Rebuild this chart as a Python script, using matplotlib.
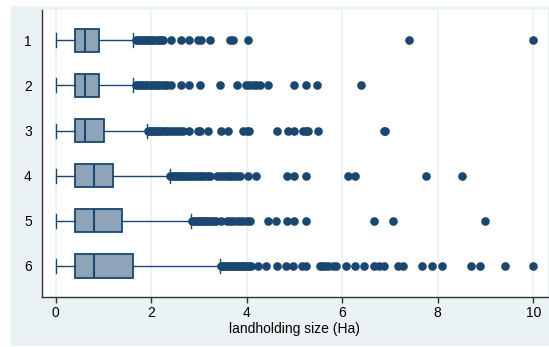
import numpy as np
import matplotlib.pyplot as plt
from matplotlib.patches import Rectangle

plt.rcParams['font.family'] = ['Liberation Sans', 'DejaVu Sans']

# Box summaries per group (Ha)
groups = ['1', '2', '3', '4', '5', '6']
q1 = [0.40, 0.40, 0.40, 0.40, 0.40, 0.40]
med = [0.61, 0.61, 0.61, 0.80, 0.80, 0.80]
q3 = [0.91, 0.91, 1.00, 1.20, 1.39, 1.62]
whis_lo = [0.0, 0.0, 0.0, 0.0, 0.0, 0.0]
whis_hi = [1.62, 1.62, 1.92, 2.39, 2.84, 3.43]

# Outside values
out1 = [1.69, 1.73, 1.77, 1.81, 1.85, 1.89, 1.93, 1.97, 2.01, 2.06, 2.11, 2.16,
        2.21, 2.25, 2.42, 2.62, 2.80, 2.98, 3.05, 3.24, 3.64, 3.71, 4.03, 7.39, 10.0]
out2 = [1.69, 1.73, 1.77, 1.81, 1.86, 1.92, 1.97, 2.02, 2.07, 2.12, 2.17, 2.22,
        2.28, 2.33, 2.42, 2.62, 2.80, 3.01, 3.43, 3.80, 3.99, 4.05, 4.13, 4.20,
        4.27, 4.45, 4.98, 5.24, 5.48, 6.39]
out3 = [1.93, 1.97, 2.01, 2.05, 2.09, 2.13, 2.17, 2.21, 2.26, 2.31, 2.36, 2.41,
        2.47, 2.53, 2.60, 2.66, 2.80, 2.98, 3.03, 3.19, 3.47, 3.61, 3.92, 4.00,
        4.05, 4.63, 4.87, 4.99, 5.18, 5.24, 5.29, 5.49, 6.87, 6.90]
out4 = [2.40, 2.44, 2.48, 2.52, 2.56, 2.60, 2.64, 2.68, 2.72, 2.77, 2.82, 2.87,
        2.92, 2.97, 3.02, 3.07, 3.12, 3.18, 3.24, 3.38, 3.44, 3.50, 3.56, 3.62,
        3.68, 3.74, 3.80, 3.86, 4.03, 4.20, 4.85, 4.99, 5.25, 6.12, 6.26, 7.75, 8.50]
out5 = [2.85, 2.89, 2.93, 2.97, 3.01, 3.05, 3.09, 3.13, 3.17, 3.21, 3.26, 3.31,
        3.36, 3.45, 3.59, 3.65, 3.72, 3.79, 3.86, 3.93, 4.00, 4.06, 4.45, 4.61,
        4.85, 4.99, 5.25, 6.67, 7.07, 9.00]
out6 = [3.45, 3.49, 3.53, 3.57, 3.61, 3.65, 3.69, 3.73, 3.77, 3.81, 3.85, 3.89,
        3.93, 3.97, 4.01, 4.05, 4.08, 4.24, 4.41, 4.64, 4.83, 4.97, 5.16, 5.25,
        5.53, 5.58, 5.64, 5.70, 5.81, 5.87, 6.07, 6.26, 6.46, 6.67, 6.77, 6.88,
        7.17, 7.28, 7.68, 7.88, 8.09, 8.70, 8.89, 9.41, 10.0]
outliers = [out1, out2, out3, out4, out5, out6]

navy = '#1a476f'
boxfill = '#90a4b9'
bg = '#eaf2f3'

stats = []
for i in range(len(groups)):
    stats.append(dict(label=groups[i], q1=q1[i], med=med[i], q3=q3[i],
                      whislo=whis_lo[i], whishi=whis_hi[i], fliers=outliers[i]))

fig = plt.figure(figsize=(5.49, 3.47), dpi=100)
fig.patch.set_facecolor('white')
# graph region background
fig.add_artist(Rectangle((11/549, 1/347), 1 - 11/549, 1 - 7/347,
                         transform=fig.transFigure, facecolor=bg,
                         edgecolor='none', zorder=0))

ax = fig.add_axes([41.5/549, 1 - 296.7/347, (548 - 41.5)/549, (296.7 - 9.5)/347])
ax.set_facecolor('white')

positions = np.arange(1, len(groups) + 1)
ax.bxp(stats, positions=positions, orientation='horizontal', widths=0.51,
       capwidths=0.31, patch_artist=True,
       boxprops=dict(facecolor=boxfill, edgecolor=navy, linewidth=1.3),
       medianprops=dict(color=navy, linewidth=1.5),
       whiskerprops=dict(color=navy, linewidth=1.0),
       capprops=dict(color=navy, linewidth=1.0),
       flierprops=dict(marker='o', markerfacecolor=navy, markeredgecolor=navy,
                       markersize=5.2, linestyle='none'))

ax.set_ylim(6.68, 0.32)
ax.set_xlim(-0.30, 10.31)
ax.set_xticks([0, 2, 4, 6, 8, 10])
ax.xaxis.grid(True, color=bg, linewidth=1.3)
ax.set_axisbelow(True)
ax.tick_params(axis='x', length=4, width=1, color='#333333', labelsize=10, pad=3)
ax.tick_params(axis='y', length=0, labelsize=10, pad=7)
ax.set_xlabel('landholding size (Ha)', fontsize=10, labelpad=1)

for s in ['top', 'right']:
    ax.spines[s].set_visible(False)
for s in ['left', 'bottom']:
    ax.spines[s].set_color('#333333')
    ax.spines[s].set_linewidth(1.0)

fig.savefig('out.png', dpi=100)
